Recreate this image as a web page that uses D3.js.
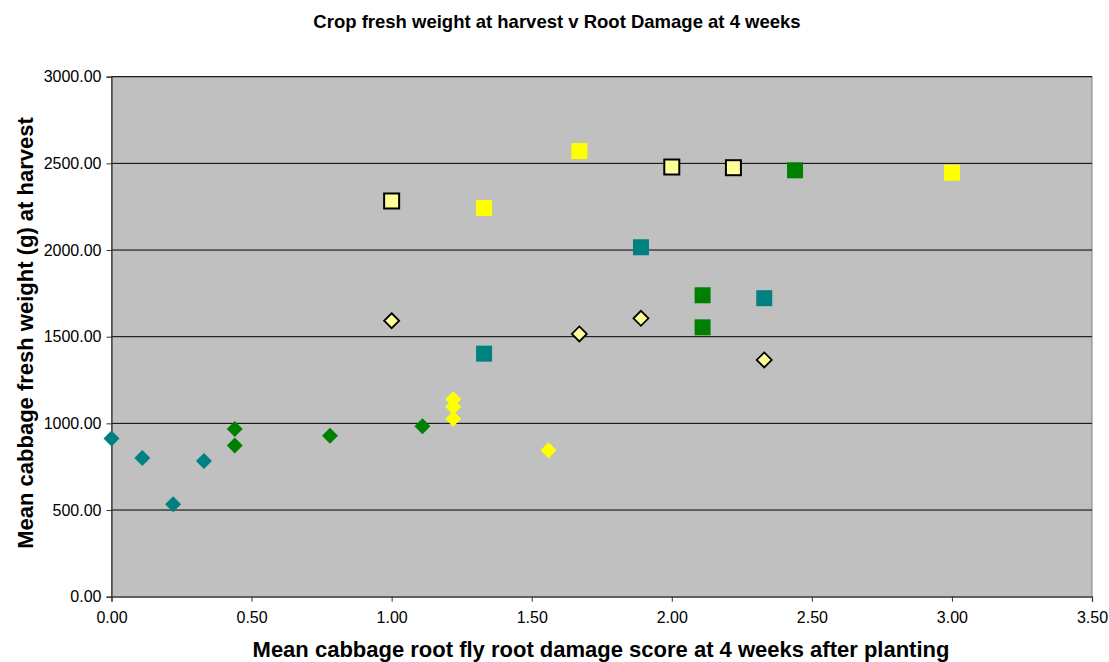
<!DOCTYPE html>
<html lang="en">
<head>
<meta charset="UTF-8">
<title>Crop fresh weight v Root Damage</title>
<script src="https://d3js.org/d3.v7.min.js"></script>
<style>
  body { margin: 0; background: #fff; }
  text { font-family: "Liberation Sans", Arial, sans-serif; }
</style>
</head>
<body>
<svg width="1109" height="662"></svg>
<script>
// series: [damage score, fresh weight]
var tealDiamonds   = [[0.00, 912], [0.11, 800], [0.22, 534], [0.33, 783]];
var greenDiamonds  = [[0.44, 967], [0.44, 873], [0.78, 929], [1.11, 983]];
var yellowDiamonds = [[1.22, 1139], [1.22, 1096], [1.22, 1027], [1.56, 845]];
var paleDiamonds   = [[1.00, 1592], [1.67, 1516], [1.89, 1606], [2.33, 1366]];
var tealSquares    = [[1.33, 1402], [1.89, 2016], [2.33, 1722]];
var greenSquares   = [[2.11, 1739], [2.11, 1554], [2.44, 2460]];
var yellowSquares  = [[1.67, 2571], [1.33, 2243], [3.00, 2446]];
var paleSquares    = [[1.00, 2283], [2.00, 2479], [2.22, 2475]];

var xTicks = [0, 0.5, 1, 1.5, 2, 2.5, 3, 3.5];
var yTicks = [0, 500, 1000, 1500, 2000, 2500, 3000];

var series = [
  {data: tealDiamonds,   shape: "diamond", fill: "#008080", stroke: "none"},
  {data: greenDiamonds,  shape: "diamond", fill: "#008000", stroke: "none"},
  {data: yellowDiamonds, shape: "diamond", fill: "#FFFF00", stroke: "none"},
  {data: paleDiamonds,   shape: "diamond", fill: "#FFFF99", stroke: "#000"},
  {data: tealSquares,    shape: "square",  fill: "#008080", stroke: "none"},
  {data: greenSquares,   shape: "square",  fill: "#008000", stroke: "none"},
  {data: yellowSquares,  shape: "square",  fill: "#FFFF00", stroke: "none"},
  {data: paleSquares,    shape: "square",  fill: "#FFFF99", stroke: "#000"}
];

var svg = d3.select("svg");
var plotL = 111.5, plotR = 1092, plotT = 76.7, plotB = 596.7;

var x = d3.scaleLinear().domain([0, 3.5]).range([plotL, plotR]);
var y = d3.scaleLinear().domain([0, 3000]).range([plotB, plotT]);

// plot background
svg.append("rect")
  .attr("x", plotL).attr("y", plotT)
  .attr("width", plotR - plotL).attr("height", plotB - plotT)
  .attr("fill", "#C0C0C0")
  .attr("stroke", "#808080").attr("stroke-width", 1);

// gridlines
svg.append("g").selectAll("line")
  .data(yTicks.filter(function (d) { return d > 0; }))
  .enter().append("line")
  .attr("x1", plotL).attr("x2", plotR)
  .attr("y1", function (d) { return y(d); })
  .attr("y2", function (d) { return y(d); })
  .attr("stroke", "#000").attr("stroke-width", 1);

// axes
var yAxis = svg.append("g")
  .attr("transform", "translate(" + plotL + ",0)")
  .call(d3.axisLeft(y).tickValues(yTicks).tickFormat(d3.format(".2f")).tickSize(5).tickPadding(5));
var xAxis = svg.append("g")
  .attr("transform", "translate(0," + plotB + ")")
  .call(d3.axisBottom(x).tickValues(xTicks).tickFormat(d3.format(".2f")).tickSize(5).tickPadding(10));

[xAxis, yAxis].forEach(function (a) {
  a.select(".domain").attr("stroke", "#333").attr("stroke-width", 1.2);
  a.selectAll(".tick line").attr("stroke", "#333");
  a.selectAll("text").attr("font-size", 16).attr("fill", "#000")
    .attr("font-family", "'Liberation Sans', Arial, sans-serif");
});

// markers
var sq = 16, dm = 16;
series.forEach(function (s) {
  var g = svg.append("g");
  if (s.shape === "square") {
    var side = s.stroke === "none" ? sq : sq - 1;
    g.selectAll("rect").data(s.data).enter().append("rect")
      .attr("x", function (d) { return x(d[0]) - side / 2; })
      .attr("y", function (d) { return y(d[1]) - side / 2; })
      .attr("width", side).attr("height", side)
      .attr("fill", s.fill)
      .attr("stroke", s.stroke).attr("stroke-width", 2);
  } else {
    var r = s.stroke === "none" ? dm / 2 : dm / 2 - 0.5;
    g.selectAll("path").data(s.data).enter().append("path")
      .attr("d", function (d) {
        var cx = x(d[0]), cy = y(d[1]);
        return "M" + cx + "," + (cy - r) + "L" + (cx + r) + "," + cy +
               "L" + cx + "," + (cy + r) + "L" + (cx - r) + "," + cy + "Z";
      })
      .attr("fill", s.fill)
      .attr("stroke", s.stroke).attr("stroke-width", 1.8);
  }
});

// titles
svg.append("text")
  .attr("x", 557).attr("y", 28)
  .attr("text-anchor", "middle")
  .attr("font-size", 18.5).attr("font-weight", "bold")
  .text("Crop fresh weight at harvest v Root Damage at 4 weeks");

svg.append("text")
  .attr("x", 601).attr("y", 657)
  .attr("text-anchor", "middle")
  .attr("font-size", 22).attr("font-weight", "bold")
  .text("Mean cabbage root fly root damage score at 4 weeks after planting");

svg.append("text")
  .attr("transform", "translate(33,333) rotate(-90)")
  .attr("text-anchor", "middle")
  .attr("font-size", 22).attr("font-weight", "bold")
  .text("Mean cabbage fresh weight (g) at harvest");
</script>
</body>
</html>
